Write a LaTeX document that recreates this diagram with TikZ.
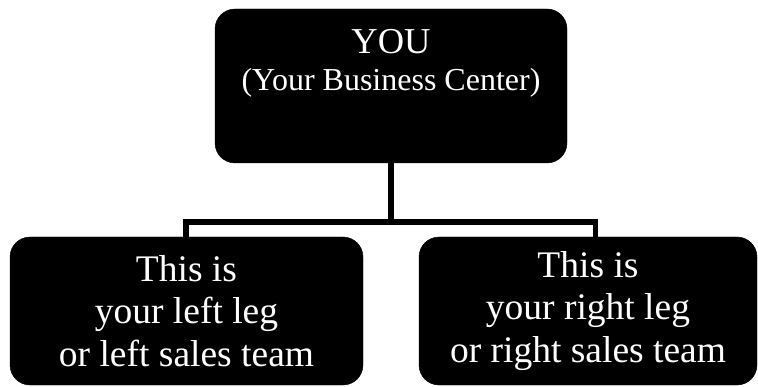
\documentclass[tikz,border=0pt]{standalone}
\usepackage{fontspec}
\setmainfont{Liberation Serif}
\begin{document}
\begin{tikzpicture}[x=1pt,y=1pt,
  box/.style={draw=black,fill=black,rounded corners=20pt,inner sep=0pt,text=white,align=center},
  conn/.style={draw=black,line width=5.5pt,line join=miter},
  toptext/.style={text=white,align=center,inner sep=0pt,font=\fontsize{32}{37.5}\selectfont},
  legtext/.style={font=\fontsize{37.5}{42.5}\selectfont}]
\useasboundingbox (0,0) rectangle (758,386);
\node[box,minimum width=352pt,minimum height=154pt,
  label={[toptext,anchor=north,yshift=-20pt]north:{\fontsize{36.5}{37.5}\selectfont YOU}\\(Your Business Center)}]
  (you) at (391,300) {};
\node[box,legtext,minimum width=353pt,minimum height=148pt] (left) at (186.5,75)
  {This is\\your left leg\\or left sales team};
\node[box,legtext,minimum width=338pt,minimum height=148pt] (right) at (588,75)
  {This is\\your right leg\\or right sales team};
\coordinate (bus) at (391,164);
\draw[conn] (you.south) -- (bus);
\draw[conn] ([xshift=-0.5pt]left.north) |- (bus) -| ([xshift=7.5pt]right.north);
\end{tikzpicture}
\end{document}
